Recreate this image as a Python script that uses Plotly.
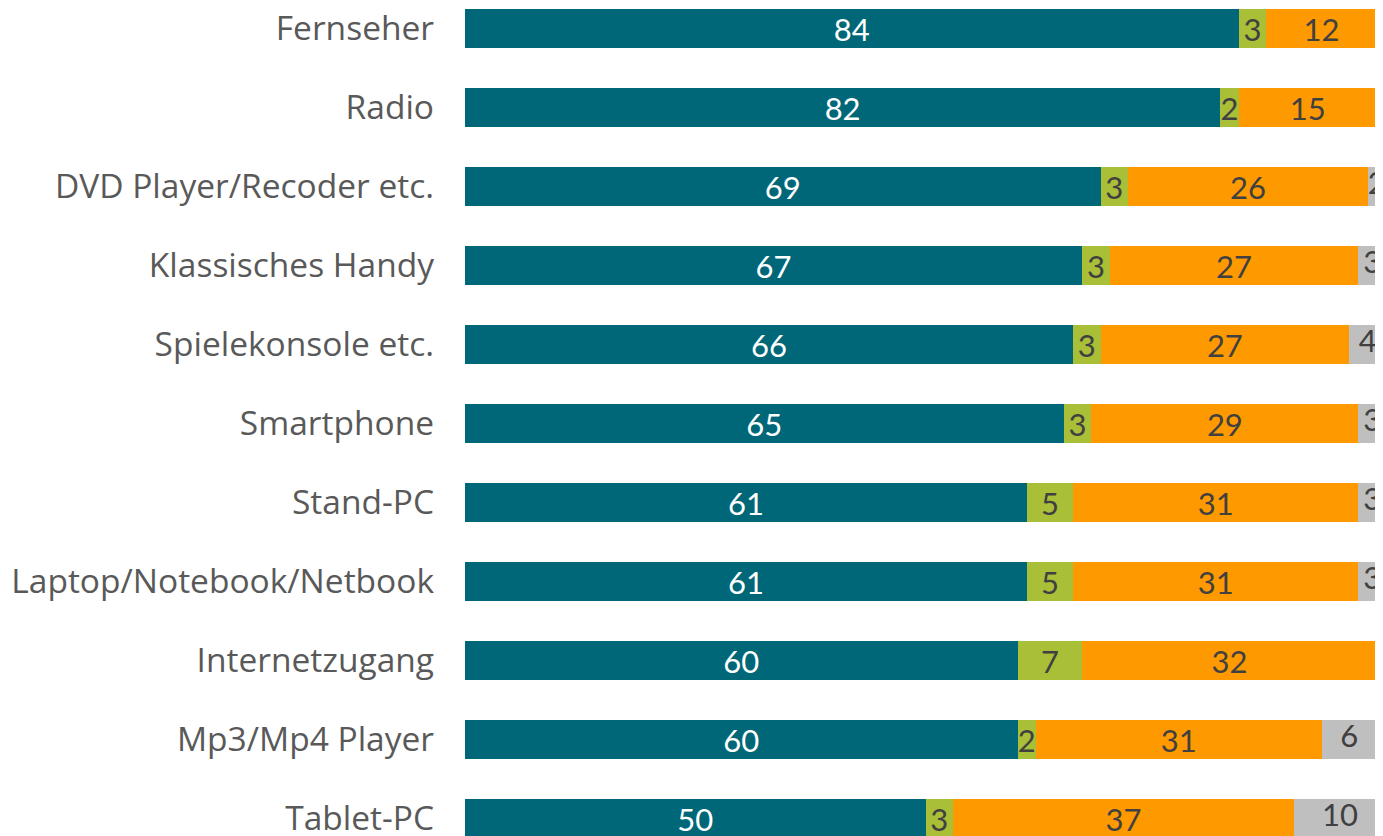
import plotly.graph_objects as go

categories = ["Fernseher", "Radio", "DVD Player/Recoder etc.", "Klassisches Handy",
              "Spielekonsole etc.", "Smartphone", "Stand-PC", "Laptop/Notebook/Netbook",
              "Internetzugang", "Mp3/Mp4 Player", "Tablet-PC"]
series1 = [84, 82, 69, 67, 66, 65, 61, 61, 60, 60, 50]
series2 = [3, 2, 3, 3, 3, 3, 5, 5, 7, 2, 3]
series3 = [12, 15, 26, 27, 27, 29, 31, 31, 32, 31, 37]
series4 = [1, 1, 2, 3, 4, 3, 3, 3, 1, 6, 10]

colors = ["#006778", "#A9BF38", "#FF9900", "#BFBFBF"]
text_colors = ["#FFFFFF", "#404040", "#404040", "#404040"]
LABEL_FONT = "Lato"
LABEL_SIZE = 31

all_series = [series1, series2, series3, series4]
fig = go.Figure()
for k, (vals, col, tcol) in enumerate(zip(all_series, colors, text_colors)):
    last = k == len(all_series) - 1
    fig.add_trace(go.Bar(
        y=categories, x=vals, orientation="h",
        marker=dict(color=col, line=dict(width=0)),
        text=None if last else [str(v) for v in vals],
        textposition="none" if last else "inside", textangle=0,
        insidetextanchor="middle", constraintext="none",
        textfont=dict(family=LABEL_FONT, size=LABEL_SIZE, color=tcol),
        hoverinfo="skip", cliponaxis=False,
    ))

# labels of the last segment (it runs past the visible edge) as a text trace
starts = [a + b + c for a, b, c in zip(series1, series2, series3)]
centers = [s + v / 2 for s, v in zip(starts, series4)]
fig.add_trace(go.Scatter(
    y=categories, x=centers, mode="text", text=[str(v) for v in series4],
    textposition="middle center",
    textfont=dict(family=LABEL_FONT, size=LABEL_SIZE, color=text_colors[3]),
    hoverinfo="skip", cliponaxis=False,
))

fig.update_layout(
    barmode="stack", bargap=0.506, showlegend=False,
    width=1375, height=828,
    margin=dict(l=457, r=0, t=0, b=0, autoexpand=False),
    paper_bgcolor="white", plot_bgcolor="white",
    uniformtext=dict(minsize=LABEL_SIZE, mode="show"),
    xaxis=dict(range=[0, 99.67], visible=False, showgrid=False, zeroline=False,
               automargin=False),
    yaxis=dict(type="category", range=[10.2215, -0.2595], showgrid=False, zeroline=False,
               showline=False, ticks="", ticklabelstandoff=30, automargin=False,
               tickfont=dict(family="Open Sans", size=33.5, color="#595959")),
)
fig.write_html("out.html")
